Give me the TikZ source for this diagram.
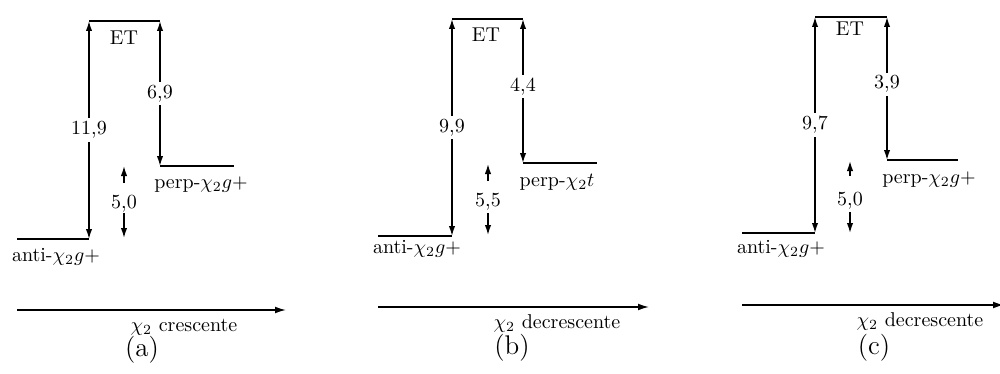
\documentclass[tikz,border=0pt]{standalone}
\usetikzlibrary{arrows.meta}
\begin{document}
\begin{tikzpicture}[x=0.5pt,y=-0.5pt,
  lvl/.style={line width=0.7pt},
  dbl/.style={line width=0.7pt,{Latex[length=5pt,width=3.2pt]}-{Latex[length=5pt,width=3.2pt]}},
  sarr/.style={line width=0.7pt,-{Latex[length=5pt,width=3.2pt]}},
  axis/.style={line width=0.7pt,-{Latex[length=5.5pt,width=3.4pt]}},
  num/.style={fill=white,inner sep=1.5pt},
  txt/.style={inner sep=0pt},
  captxt/.style={inner sep=0pt,font=\fontsize{13.5}{16}\selectfont}]
\useasboundingbox (0,0) rectangle (1000,374);
% ---------- (a)
\coordinate (a1) at (17,239); \coordinate (a2) at (89,239);
\coordinate (a3) at (89,21); \coordinate (a4) at (160,21);
\coordinate (a5) at (160,166); \coordinate (a6) at (234,166);
\draw[lvl] (a1) -- (a2);
\draw[lvl] (a3) -- (a4);
\draw[lvl] (a5) -- (a6);
\draw[dbl] (a2) -- node[num] (an1) {11,9} (a3);
\draw[dbl] (a4) -- node[num] (an2) {6,9} (a5);
\node[txt] (aET) at (124,38) {ET};
\coordinate (as1) at (124,183); \coordinate (as2) at (124,166);
\coordinate (as3) at (124,213); \coordinate (as4) at (124,238);
\draw[sarr] (as1) -- (as2);
\draw[sarr] (as3) -- (as4);
\node[txt] (an3) at (124,204) {5,0};
\node[txt] (aperp) at (201,185) {perp-$\chi_2g{+}$};
\node[txt] (aanti) at (56,257) {anti-$\chi_2g{+}$};
\coordinate (ax1) at (17,310); \coordinate (ax2) at (286,310);
\draw[axis] (ax1) -- (ax2);
\node[txt] (axl) at (184,327) {$\chi_2$ crescente};
\node[captxt] (acap) at (142,350) {(a)};
% ---------- (b)
\coordinate (b1) at (378,236); \coordinate (b2) at (452,236);
\coordinate (b3) at (452,19); \coordinate (b4) at (523,19);
\coordinate (b5) at (523,163); \coordinate (b6) at (597,163);
\draw[lvl] (b1) -- (b2);
\draw[lvl] (b3) -- (b4);
\draw[lvl] (b5) -- (b6);
\draw[dbl] (b2) -- node[num] (bn1) {9,9} (b3);
\draw[dbl] (b4) -- node[num,pos=0.47] (bn2) {4,4} (b5);
\node[txt] (bET) at (486,35) {ET};
\coordinate (bs1) at (488,181); \coordinate (bs2) at (488,164);
\coordinate (bs3) at (488,213); \coordinate (bs4) at (488,235);
\draw[sarr] (bs1) -- (bs2);
\draw[sarr] (bs3) -- (bs4);
\node[txt] (bn3) at (488,202) {5,5};
\node[txt] (bperp) at (557,182) {perp-$\chi_2t$};
\node[txt] (banti) at (417,249) {anti-$\chi_2g{+}$};
\coordinate (bx1) at (378,307); \coordinate (bx2) at (649,307);
\draw[axis] (bx1) -- (bx2);
\node[txt] (bxl) at (557,324) {$\chi_2$ decrescente};
\node[captxt] (bcap) at (512,348) {(b)};
% ---------- (c)
\coordinate (c1) at (742,233); \coordinate (c2) at (815,233);
\coordinate (c3) at (815,17); \coordinate (c4) at (887,17);
\coordinate (c5) at (887,160); \coordinate (c6) at (958,160);
\draw[lvl] (c1) -- (c2);
\draw[lvl] (c3) -- (c4);
\draw[lvl] (c5) -- (c6);
\draw[dbl] (c2) -- node[num] (cn1) {9,7} (c3);
\draw[dbl] (c4) -- node[num,pos=0.47] (cn2) {3,9} (c5);
\node[txt] (cET) at (850,29) {ET};
\coordinate (cs1) at (850,176); \coordinate (cs2) at (850,161);
\coordinate (cs3) at (850,212); \coordinate (cs4) at (850,233);
\draw[sarr] (cs1) -- (cs2);
\draw[sarr] (cs3) -- (cs4);
\node[txt] (cn3) at (850,201) {5,0};
\node[txt] (cperp) at (929,180) {perp-$\chi_2g{+}$};
\node[txt] (canti) at (781,249) {anti-$\chi_2g{+}$};
\coordinate (cx1) at (742,305); \coordinate (cx2) at (1004,305);
\draw[axis] (cx1) -- (cx2);
\node[txt] (cxl) at (920,322) {$\chi_2$ decrescente};
\node[captxt] (ccap) at (874,348) {(c)};
\end{tikzpicture}
\end{document}
